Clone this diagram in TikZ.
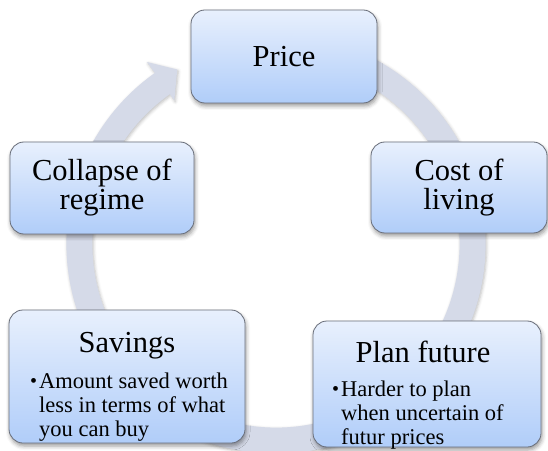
\documentclass[tikz,border=0pt]{standalone}
\usepackage{fontspec}
\setmainfont{Liberation Serif}
\usetikzlibrary{shadows,shadows.blur}
\definecolor{ringc}{RGB}{213,218,232}
\definecolor{boxtop}{RGB}{232,240,253}
\definecolor{boxbot}{RGB}{176,205,249}
\definecolor{boxline}{RGB}{105,110,122}
\newcommand{\titlefont}{\fontsize{30.5}{29}\selectfont}
\newcommand{\bulletfont}{\fontsize{22.5}{24}\selectfont}
\newcommand{\smallbul}{\raisebox{0.5pt}{\fontsize{20}{20}\selectfont\textbullet}}
\tikzset{
  cyclebox/.style={draw=boxline, line width=0.8pt, rounded corners=14pt,
    top color=boxtop, bottom color=boxbot, inner sep=0pt, align=center,
    font=\titlefont,
    blur shadow={shadow xshift=1pt, shadow yshift=-3pt, shadow blur radius=4pt, shadow opacity=40}},
  boxtitle/.style={inner sep=0pt, anchor=base, font=\titlefont},
  boxbullets/.style={inner sep=0pt, anchor=base west, font=\bulletfont}
}
\begin{document}
\begin{tikzpicture}[x=1pt,y=1pt]
\useasboundingbox (0,0) rectangle (548,450);
% circular arrow
\begin{scope}[shift={(276,206)}]
\fill[ringc, blur shadow={shadow xshift=1pt, shadow yshift=-1.5pt, shadow blur radius=3pt, shadow opacity=25}]
  (95:209.6) arc[start angle=95, end angle=-234.7, radius=209.6]
  -- (125.3:223) -- (119.5:200.5) -- (125.3:176)
  -- (125.3:183.6) arc[start angle=125.3, end angle=455, radius=183.6] -- cycle;
\end{scope}
% boxes
\node[cyclebox, minimum width=186pt, minimum height=93pt] (price) at (284,393.5) {Price};
\node[cyclebox, minimum width=176pt, minimum height=91pt] (cost) at (459,262.5) {Cost of\\living};
\node[cyclebox, minimum width=184pt, minimum height=92pt] (collapse) at (102,262) {Collapse of\\regime};
\node[cyclebox, minimum width=236pt, minimum height=133pt] (savings) at (127,73.5) {};
\node[cyclebox, minimum width=228pt, minimum height=126pt] (plan) at (427,66) {};
% texts of the two larger boxes
\node[boxtitle] (savingstitle) at (127,98) {Savings};
\node[boxbullets] (savingstext) at (30,62) {\begin{tabular}[t]{@{}l@{\hspace{2pt}}l@{}}\smallbul & Amount saved worth\\ & less in terms of what\\ & you can buy\end{tabular}};
\node[boxtitle] (plantitle) at (423,88) {Plan future};
\node[boxbullets] (plantext) at (332,54) {\begin{tabular}[t]{@{}l@{\hspace{2pt}}l@{}}\smallbul & Harder to plan\\ & when uncertain of\\ & futur prices\end{tabular}};
\end{tikzpicture}
\end{document}
